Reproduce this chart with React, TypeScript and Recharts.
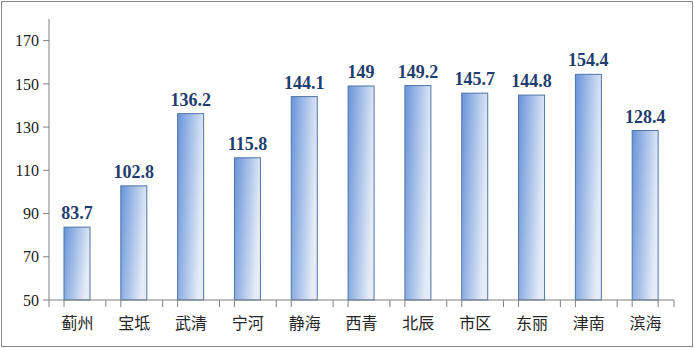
import React from "react";
import { BarChart, Bar, XAxis, YAxis, LabelList, ReferenceLine } from "recharts";

const categories = ["蓟州", "宝坻", "武清", "宁河", "静海", "西青", "北辰", "市区", "东丽", "津南", "滨海"];
const values = [83.7, 102.8, 136.2, 115.8, 144.1, 149, 149.2, 145.7, 144.8, 154.4, 128.4];
const yTicks = [50, 70, 90, 110, 130, 150, 170];
const boundaryTicks = categories.map((_, i) => i).concat([categories.length]);

const data = categories.map((name, i) => ({ name, value: values[i], pos: i + 0.5 }));

const W = 694;
const H = 348;
const M = { top: 19, right: 20, bottom: 18, left: 0 };
const YW = 49;
const XH = 30;
const Y_MIN = 50;
const Y_MAX = 180;
const plotH = H - M.top - M.bottom - XH;
const tickDrop = ((Y_MAX - Y_MIN) / plotH) * 7;

const CatTick = (props: any) => {
  const { x, y, payload } = props;
  return (
    <text
      x={x}
      y={y + 21}
      textAnchor="middle"
      fontSize={16}
      fill="#262626"
      fontFamily="'Noto Sans CJK SC', sans-serif"
    >
      {payload.value}
    </text>
  );
};

const BarShape = (props: any) => {
  const { x, y, width, height, background, index } = props;
  const base = y + height;
  const bg = background || {};
  return (
    <g>
      <rect x={x} y={y} width={width} height={height} fill="url(#barGrad)" stroke="#4f74a6" strokeWidth={1} />
      {bg.x != null && (
        <line x1={bg.x} y1={base} x2={bg.x} y2={base + 7} stroke="#808080" strokeWidth={1} />
      )}
      {bg.x != null && index === categories.length - 1 && (
        <line
          x1={bg.x + bg.width}
          y1={base}
          x2={bg.x + bg.width}
          y2={base + 7}
          stroke="#808080"
          strokeWidth={1}
        />
      )}
    </g>
  );
};

export default function App() {
  return (
    <div style={{ position: "absolute", left: 0, top: 0, width: W, height: H, background: "#fff" }}>
      <div
        style={{
          position: "absolute",
          left: 1,
          top: 1,
          width: 692,
          height: 346,
          border: "1px solid #888",
          boxSizing: "border-box",
        }}
      />
      <div style={{ position: "absolute", left: 0, top: 0 }}>
        <BarChart width={W} height={H} data={data} margin={M} barCategoryGap={0}>
          <defs>
            <linearGradient id="barGrad" x1="0" y1="0" x2="1" y2="0.3">
              <stop offset="0%" stopColor="#6894da" />
              <stop offset="100%" stopColor="#e5ecf7" />
            </linearGradient>
          </defs>
          <XAxis
            dataKey="name"
            height={XH}
            axisLine={{ stroke: "#808080" }}
            tickLine={false}
            tick={<CatTick />}
            interval={0}
          />
          <XAxis
            xAxisId="b"
            dataKey="pos"
            type="number"
            domain={[0, categories.length]}
            hide
          />
          <YAxis
            width={YW}
            domain={[Y_MIN, Y_MAX]}
            ticks={yTicks}
            axisLine={{ stroke: "#808080" }}
            tickLine={{ stroke: "#808080" }}
            tickSize={6}
            tickMargin={4}
            tick={{ fontSize: 16, fill: "#222", fontFamily: "'Liberation Serif', serif" }}
          />
          <Bar
            dataKey="value"
            barSize={26}
            fill="url(#barGrad)"
            stroke="#4f74a6"
            strokeWidth={1}
            shape={<BarShape />}
            isAnimationActive={false}
          >
            <LabelList
              dataKey="value"
              position="top"
              offset={8}
              style={{ fontSize: 18, fontWeight: "bold", fill: "#1f3d6e", fontFamily: "'Liberation Serif', serif" }}
            />
          </Bar>
          {boundaryTicks.map((t) => (
            <ReferenceLine
              key={t}
              xAxisId="b"
              segment={[
                { x: t, y: Y_MIN },
                { x: t, y: Y_MIN - tickDrop },
              ]}
              stroke="#808080"
              strokeWidth={1}
              ifOverflow="visible"
            />
          ))}
        </BarChart>
      </div>
    </div>
  );
}
